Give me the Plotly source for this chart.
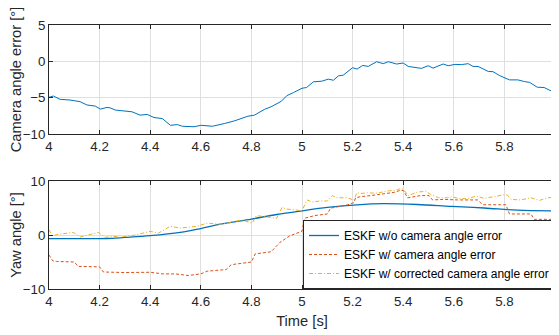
import plotly.graph_objects as go

# ---- Top panel: camera angle error ----
cam_t = [4.0, 4.017, 4.044, 4.083, 4.123, 4.15, 4.183, 4.203, 4.229, 4.242, 4.262, 4.295,
         4.328, 4.36, 4.388, 4.415, 4.448, 4.48, 4.507, 4.527, 4.573, 4.6, 4.646, 4.693,
         4.732, 4.786, 4.812, 4.852, 4.878, 4.918, 4.94, 4.966, 5.0, 5.018, 5.045, 5.078,
         5.104, 5.124, 5.144, 5.163, 5.2, 5.218, 5.24, 5.262, 5.295, 5.321, 5.341, 5.374,
         5.4, 5.42, 5.472, 5.499, 5.518, 5.558, 5.578, 5.605, 5.63, 5.657, 5.676, 5.696,
         5.736, 5.755, 5.78, 5.82, 5.853, 5.879, 5.9, 5.93, 5.957, 5.98, 6.0]
cam_err = [-4.95, -4.77, -5.23, -5.32, -5.55, -6.0, -6.16, -6.57, -6.34, -6.4, -6.7, -6.85,
           -6.94, -7.4, -7.3, -7.73, -7.87, -8.8, -8.7, -8.93, -9.0, -8.8, -8.93, -8.56,
           -8.2, -7.55, -7.4, -6.6, -6.25, -5.5, -4.72, -4.3, -3.7, -3.6, -2.82, -2.73,
           -2.45, -2.6, -2.0, -1.9, -0.88, -1.06, -0.56, -0.7, -0.05, -0.32, -0.05, -0.37,
           -0.23, -0.7, -0.97, -0.6, -0.93, -0.37, -0.6, -0.42, -0.45, -0.32, -0.7, -0.7,
           -1.39, -1.42, -1.94, -2.55, -2.55, -2.78, -2.9, -3.56, -3.6, -4.0, -4.0]

# ---- Bottom panel: yaw angle ----
wo_t = [4.0, 4.1, 4.228, 4.3, 4.4, 4.519, 4.6, 4.677, 4.8, 4.9, 5.0, 5.1, 5.217, 5.324,
        5.456, 5.59, 5.72, 5.85, 6.0]
wo_yaw = [-0.68, -0.68, -0.65, -0.45, -0.13, 0.48, 1.2, 2.0, 2.96, 3.8, 4.48, 5.1, 5.6,
          5.8, 5.65, 5.3, 5.0, 4.6, 4.45]

w_t = [4.0, 4.015, 4.03, 4.1, 4.115, 4.2, 4.215, 4.3, 4.4, 4.45, 4.5, 4.55, 4.6, 4.625,
       4.7, 4.72, 4.8, 4.815, 4.878, 4.912, 4.95, 5.0, 5.01, 5.05, 5.1, 5.113, 5.179,
       5.205, 5.212, 5.232, 5.271, 5.324, 5.364, 5.39, 5.402, 5.417, 5.443, 5.469,
       5.502, 5.516, 5.562, 5.615, 5.694, 5.714, 5.786, 5.806, 5.82, 5.905, 5.918, 6.0]
w_yaw = [-3.7, -4.8, -4.9, -5.0, -5.8, -5.9, -6.85, -6.95, -6.9, -7.2, -7.2, -7.5, -7.2,
         -6.7, -6.4, -5.5, -5.0, -3.5, -3.1, -1.4, -0.2, 0.7, 3.1, 3.6, 3.9, 4.97, 5.58,
         6.0, 6.9, 7.1, 7.3, 7.6, 7.9, 8.3, 8.2, 6.9, 7.1, 7.3, 7.3, 6.5, 6.6, 6.5, 6.5,
         5.6, 5.6, 5.6, 3.9, 3.9, 2.9, 2.9]

corr_t = [4.0, 4.013, 4.044, 4.096, 4.123, 4.162, 4.195, 4.222, 4.255, 4.281, 4.334,
          4.4, 4.433, 4.479, 4.519, 4.585, 4.625, 4.677, 4.72, 4.76, 4.803, 4.82, 4.875,
          4.9, 4.921, 4.94, 5.0, 5.02, 5.04, 5.07, 5.1, 5.12, 5.14, 5.18, 5.205, 5.217,
          5.232, 5.258, 5.297, 5.337, 5.377, 5.39, 5.402, 5.42, 5.456, 5.489, 5.509, 5.54,
          5.575, 5.594, 5.615, 5.654, 5.687, 5.72, 5.76, 5.8, 5.812, 5.826, 5.865, 5.905,
          5.938, 5.971, 6.0]
corr_yaw = [0.98, -0.13, 0.18, 0.48, -0.37, 0.06, 0.48, -0.43, -0.25, -0.37, -0.06,
            0.67, 0.36, 1.6, 1.3, 1.6, 2.2, 2.0, 2.3, 2.8, 2.2, 3.6, 3.3, 3.1, 5.1, 4.8,
            4.5, 6.5, 6.1, 6.3, 6.3, 7.3, 6.9, 6.9, 6.45, 7.85, 7.7, 7.8, 7.75, 8.15, 8.35,
            8.65, 8.4, 7.3, 7.95, 8.1, 7.5, 6.9, 6.9, 7.1, 6.8, 6.7, 7.2, 6.8, 7.1, 7.5,
            7.4, 6.6, 6.5, 6.9, 6.4, 6.9, 7.0]

x_ticks = [4.0, 4.2, 4.4, 4.6, 4.8, 5.0, 5.2, 5.4, 5.6, 5.8, 6.0]
x_tick_labels = ["4", "4.2", "4.4", "4.6", "4.8", "5", "5.2", "5.4", "5.6", "5.8", "6"]

names = ["ESKF w/o camera angle error", "ESKF w/ camera angle error",
         "ESKF w/ corrected camera angle error"]

BLUE, RED, YEL = "#0072BD", "#D95319", "#EDB120"
TXT = "#262626"
GRID = "#dfdfdf"
FONT = "Liberation Sans, Arial, Helvetica, sans-serif"

fig = go.Figure()
fig.add_trace(go.Scatter(x=cam_t, y=cam_err, mode="lines", line=dict(color=BLUE, width=1),
                         xaxis="x", yaxis="y", showlegend=False))
fig.add_trace(go.Scatter(x=wo_t, y=wo_yaw, mode="lines", name=names[0],
                         line=dict(color=BLUE, width=1.3, shape="spline"), xaxis="x2", yaxis="y2"))
fig.add_trace(go.Scatter(x=w_t, y=w_yaw, mode="lines", name=names[1],
                         line=dict(color=RED, width=1, dash="3px,2px"), xaxis="x2", yaxis="y2"))
fig.add_trace(go.Scatter(x=corr_t, y=corr_yaw, mode="lines", name=names[2],
                         line=dict(color=YEL, width=1, dash="4px,2px,1px,2px"), xaxis="x2", yaxis="y2"))

common_x = dict(range=[4, 6], tickvals=x_ticks, ticktext=x_tick_labels,
                showgrid=True, gridcolor=GRID, gridwidth=1, zeroline=False,
                showline=True, linecolor=TXT, linewidth=1, mirror="ticks",
                ticks="inside", ticklen=4, tickcolor=TXT, automargin=False,
                ticklabeloverflow="allow",
                tickfont=dict(size=13.3, color=TXT, family=FONT))
common_y = dict(showgrid=True, gridcolor=GRID, gridwidth=1, zeroline=False,
                showline=True, linecolor=TXT, linewidth=1, mirror="ticks",
                ticks="inside", ticklen=4, tickcolor=TXT, automargin=False,
                tickfont=dict(size=13.3, color=TXT, family=FONT))

# The page body adds an 8px offset, so the figure is sized to the remaining window.
fig.update_layout(
    width=551, height=327,
    margin=dict(l=41, r=4, t=17, b=46),
    paper_bgcolor="white", plot_bgcolor="white",
    font=dict(family=FONT, color=TXT),
    xaxis=dict(domain=[0, 1], anchor="y", **common_x),
    yaxis=dict(domain=[0.587, 1], anchor="x", range=[-10, 5], tickvals=[-10, -5, 0, 5],
               title=dict(text="Camera angle error [°]", font=dict(size=14.7, color=TXT), standoff=0),
               **common_y),
    xaxis2=dict(domain=[0, 1], anchor="y2",
                title=dict(text="Time [s]", font=dict(size=14.7, color=TXT), standoff=7),
                **common_x),
    yaxis2=dict(domain=[0, 0.409], anchor="x2", range=[-10, 10], tickvals=[-10, 0, 10],
                title=dict(text="Yaw angle [°]", font=dict(size=14.7, color=TXT), standoff=0),
                **common_y),
    legend=dict(x=1, y=0, xanchor="right", yanchor="bottom", bgcolor="white",
                bordercolor=TXT, borderwidth=1, font=dict(size=12, color="black", family=FONT),
                itemwidth=30, tracegroupgap=0),
)

fig.write_html("out.html")
